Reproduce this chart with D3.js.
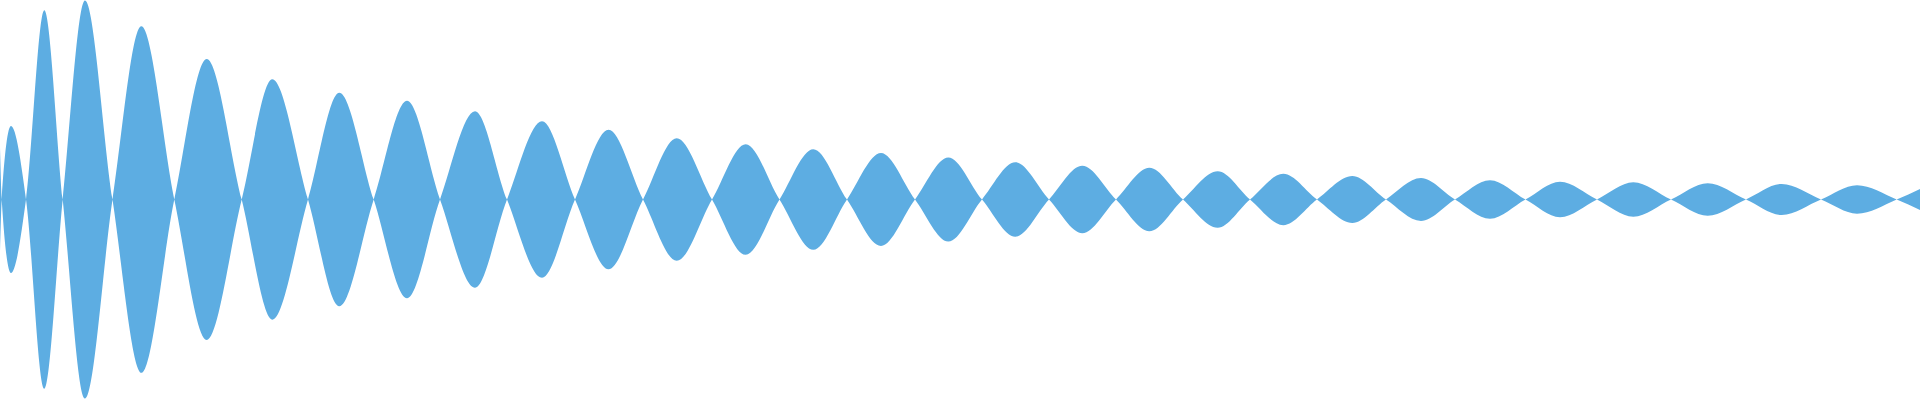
<!DOCTYPE html>
<html>
<head>
<meta charset="utf-8">
<script src="https://cdn.jsdelivr.net/npm/d3@7"></script>
<style>
  html, body { margin: 0; padding: 0; background: #ffffff; overflow: hidden; }
  svg { display: block; }
</style>
</head>
<body>
<svg id="chart" width="1920" height="400"></svg>
<script>
// Zero crossings of the waveform (x units)
const crossingX = [1.7, 26, 62.7, 112.5, 174.3, 241.7, 308, 373.7, 440, 507, 575, 643, 712, 779.5,
  847, 915, 982, 1049, 1116, 1183, 1250, 1317, 1386, 1455, 1525.5, 1597, 1671, 1746, 1821, 1896.7];
// Position of each lobe's peak (between consecutive crossings)
const peakX = [11, 44.3, 85, 141.3, 206.7, 272.3, 339.3, 407, 475, 542, 608.5, 676.7, 745.7, 813.3,
  881, 948.3, 1015.3, 1082.3, 1149.3, 1217.7, 1283.3, 1352.3, 1421, 1490, 1560, 1633.3, 1707.7, 1781.7, 1857];
// Peak amplitude of each lobe
const peakAmp = [73.7, 189.7, 199.5, 173.8, 140.8, 120.5, 107, 99, 88.5, 78.5, 70, 61.5, 55.5, 50.5,
  46.5, 42.2, 37.3, 33.8, 31.8, 28.3, 25.7, 23.5, 21.5, 19.3, 17.8, 17.3, 16.3, 15.5, 14.2];
// Signal value at the start and at the right edge
const startPoint = { x: 0, v: -52 };
const endPoint = { x: 1920, v: 10.5 };

const width = 1920, height = 400;

// Build signed sequence: lobes alternate sign
const points = [startPoint];
crossingX.forEach((cx, i) => {
  points.push({ x: cx, v: 0 });
  if (i < peakX.length) {
    const sign = i % 2 === 0 ? 1 : -1;
    points.push({ x: peakX[i], v: sign * peakAmp[i] });
  }
});
const lastSign = peakX.length % 2 === 0 ? 1 : -1;
points.push({ x: endPoint.x, v: lastSign * endPoint.v });

const x = d3.scaleLinear().domain([0, 1920]).range([0, width]);
const y = d3.scaleLinear().domain([-200, 200]).range([399, 0]);

const area = d3.area()
  .x(d => x(d.x))
  .y0(d => y(-d.v))
  .y1(d => y(d.v))
  .curve(d3.curveMonotoneX);

d3.select("#chart").append("path")
  .datum(points)
  .attr("d", area)
  .attr("fill", "#5dade2")
  .attr("fill-rule", "nonzero");
</script>
</body>
</html>
